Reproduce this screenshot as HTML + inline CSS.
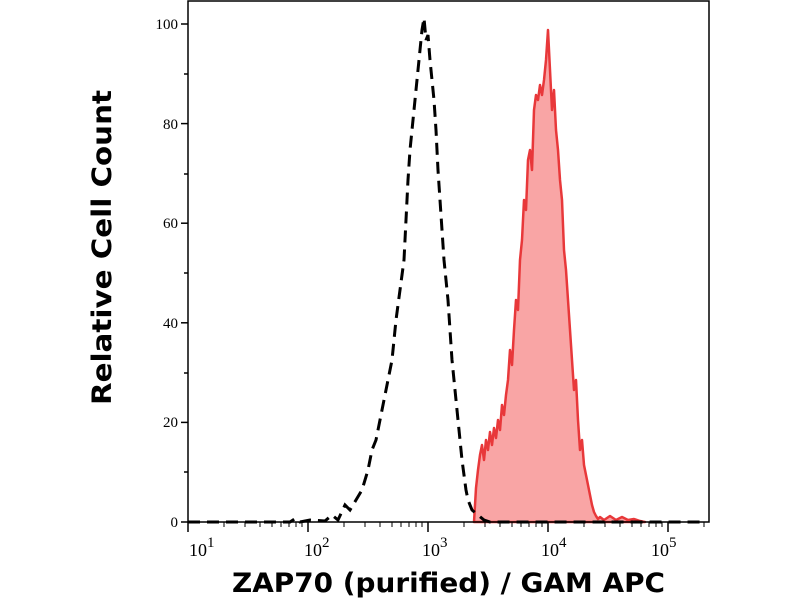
<!DOCTYPE html>
<html><head><style>
html,body{margin:0;padding:0;background:#fff;}
svg{display:block;}
</style></head><body>
<svg width="800" height="600" viewBox="0 0 800 600" xmlns="http://www.w3.org/2000/svg">
<rect width="800" height="600" fill="#fff"/>
<path d="M474,522 L476,488 L478,470 L480,455 L482,445 L484,460 L486,440 L488,450 L490,432 L492,445 L494,428 L496,438 L498,420 L500,430 L502,405 L504,415 L506,395 L508,380 L510,350 L512,365 L514,330 L516,300 L518,310 L520,260 L522,240 L524,200 L526,210 L528,160 L530,150 L532,170 L534,110 L536,95 L538,100 L540,85 L542,95 L544,80 L546,60 L548,30 L550,70 L552,110 L554,90 L556,130 L558,150 L560,180 L562,200 L564,250 L566,270 L568,300 L570,330 L572,360 L574,390 L576,380 L578,420 L580,450 L582,440 L584,465 L586,475 L588,485 L590,495 L592,505 L594,512 L596,516 L598,519 L600,517 L604,520 L610,516 L616,520 L622,517 L628,520 L634,519 L640,521 L645,522 Z" fill="#f9a5a5" stroke="#e8383a" stroke-width="2.5" stroke-linejoin="round"/>
<path d="M188,522 L290,522 L296,518 L300,522 L310,520 L325,521 L332,515 L338,520 L345,505 L350,510 L356,500 L362,490 L368,470 L372,450 L376,440 L380,420 L384,400 L388,380 L392,360 L396,320 L400,290 L404,260 L406,220 L408,180 L410,150 L412,130 L414,110 L416,90 L418,70 L420,50 L422,30 L424,18 L426,40 L428,35 L430,60 L432,80 L434,100 L436,130 L438,170 L440,200 L442,230 L444,260 L446,280 L448,300 L450,330 L452,360 L454,380 L456,400 L458,420 L460,440 L462,460 L464,475 L466,490 L468,500 L472,510 L478,515 L484,520 L490,522 L700,522" fill="none" stroke="#000" stroke-width="3" stroke-dasharray="12,7"/>
<rect x="188" y="1" width="521" height="521" fill="none" stroke="#000" stroke-width="1.5"/>
<g stroke="#000" stroke-width="1.5">
<line x1="181" y1="522" x2="188" y2="522"/><line x1="181" y1="422.4" x2="188" y2="422.4"/>
<line x1="181" y1="322.8" x2="188" y2="322.8"/><line x1="181" y1="223.2" x2="188" y2="223.2"/>
<line x1="181" y1="123.6" x2="188" y2="123.6"/><line x1="181" y1="24" x2="188" y2="24"/>
<line x1="184" y1="472" x2="188" y2="472"/><line x1="184" y1="373" x2="188" y2="373"/>
<line x1="184" y1="273" x2="188" y2="273"/><line x1="184" y1="174" x2="188" y2="174"/>
<line x1="184" y1="74" x2="188" y2="74"/>
</g>
<g font-family="Liberation Serif, serif" font-size="15" text-anchor="end" fill="#000">
<text x="178" y="527">0</text><text x="178" y="427">20</text><text x="178" y="328">40</text>
<text x="178" y="228">60</text><text x="178" y="129">80</text><text x="178" y="29">100</text>
</g>
<g stroke="#000" stroke-width="1.5">
<line x1="188" y1="522" x2="188" y2="532"/><line x1="308" y1="522" x2="308" y2="532"/>
<line x1="428" y1="522" x2="428" y2="532"/><line x1="548" y1="522" x2="548" y2="532"/>
<line x1="668" y1="522" x2="668" y2="532"/>
</g>
<g stroke="#000" stroke-width="1">
<path d="M224,522v5M245,522v5M260,522v5M272,522v5M281,522v5M289,522v5M296,522v5M302,522v5M344,522v5M365,522v5M380,522v5M392,522v5M401,522v5M409,522v5M416,522v5M422,522v5M464,522v5M485,522v5M500,522v5M512,522v5M521,522v5M529,522v5M536,522v5M542,522v5M584,522v5M605,522v5M620,522v5M632,522v5M641,522v5M649,522v5M656,522v5M662,522v5M704,522v5"/>
</g>
<g font-family="Liberation Serif, serif" font-size="18" fill="#000">
<text x="189" y="556">10<tspan dy="-9" font-size="15">1</tspan></text>
<text x="304" y="556">10<tspan dy="-9" font-size="15">2</tspan></text>
<text x="422" y="556">10<tspan dy="-9" font-size="15">3</tspan></text>
<text x="541" y="556">10<tspan dy="-9" font-size="15">4</tspan></text>
<text x="651" y="556">10<tspan dy="-9" font-size="15">5</tspan></text>
</g>
<text x="232" y="592" font-family="DejaVu Sans, sans-serif" font-weight="bold" font-size="27" textLength="433" lengthAdjust="spacingAndGlyphs">ZAP70 (purified) / GAM APC</text>
<text transform="translate(111,405) rotate(-90)" font-family="DejaVu Sans, sans-serif" font-weight="bold" font-size="27" textLength="315" lengthAdjust="spacingAndGlyphs">Relative Cell Count</text>
</svg>
</body></html>
